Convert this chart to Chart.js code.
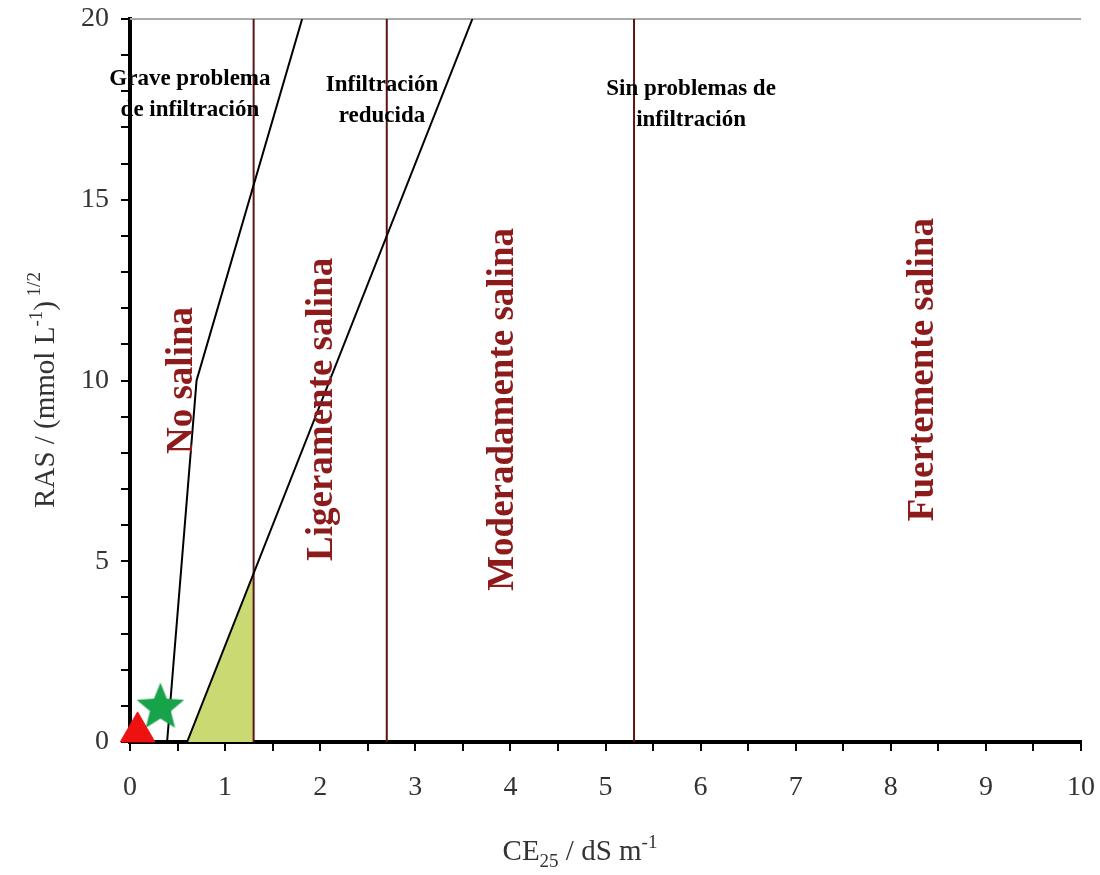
<!DOCTYPE html>
<html>
<head>
<meta charset="utf-8">
<script src="https://cdn.jsdelivr.net/npm/chart.js@4"></script>
<style>
  html, body { margin: 0; padding: 0; background: #fff; }
  #wrap { width: 1100px; height: 875px; overflow: hidden; position: relative; }
  #salChart { position: absolute; left: 0; top: -7px; }
</style>
</head>
<body>
<div id="wrap"><canvas id="salChart" width="1107" height="882"></canvas></div>
<script>
// boundary lines (CE25 vs RAS)
var severeX = [0.39, 0.70, 1.81];
var severeY = [0, 10, 20];
var reducedX = [0.6, 3.6];
var reducedY = [0, 20];
// salinity class limits, dS/m
var salinityLimits = [1.3, 2.7, 5.3];
// shaded zone
var fillX = [0.6, 1.3];
var fillY = [0, 4.7];
// samples: triangle, star
var sampleX = [0.08, 0.32];
var sampleY = [0.28, 0.98];

var zoneLabels = ['No salina', 'Ligeramente salina', 'Moderadamente salina', 'Fuertemente salina'];
var infilLabels = [['Grave problema', 'de infiltración'], ['Infiltración', 'reducida'], ['Sin problemas de', 'infiltración']];

// where the texts sit, in data units
var zoneAt = [[0.55, 10.0], [2.02, 9.2], [3.93, 9.2], [8.34, 10.3]];
var infilAt = [[0.63, 18.34], [2.65, 18.18], [5.9, 18.07]];

function pts(xs, ys) {
  var out = [];
  for (var i = 0; i < xs.length; i++) out.push({x: xs[i], y: ys[i]});
  return out;
}

// filled five point star for the second sample
var star = document.createElement('canvas');
star.width = 52; star.height = 52;
(function () {
  var c = star.getContext('2d');
  var R = 25, r = 11, cx = 26, cy = 27;
  c.beginPath();
  for (var i = 0; i < 10; i++) {
    var rad = (i % 2 === 0) ? R : r;
    var a = -Math.PI / 2 + i * Math.PI / 5;
    var px = cx + rad * Math.cos(a), py = cy + rad * Math.sin(a);
    if (i === 0) c.moveTo(px, py); else c.lineTo(px, py);
  }
  c.closePath();
  c.fillStyle = '#16a34a';
  c.fill();
})();

var datasets = [
  {data: [pts(sampleX, sampleY)[0]], pointStyle: 'triangle', pointRadius: 20, backgroundColor: '#ee1111', borderColor: '#ee1111', clip: false, order: 0},
  {data: [pts(sampleX, sampleY)[1]], pointStyle: star, pointRadius: 25, clip: false, order: 0},
  {data: pts(severeX, severeY), showLine: true, borderColor: '#000', borderWidth: 2, pointRadius: 0, order: 1},
  {data: pts(reducedX, reducedY), showLine: true, borderColor: '#000', borderWidth: 2, pointRadius: 0, order: 1},
  {data: pts(fillX, fillY), showLine: true, borderColor: 'rgba(0,0,0,0)', borderWidth: 0, pointRadius: 0,
   fill: 'origin', backgroundColor: '#cad972', order: 3}
];
salinityLimits.forEach(function (v) {
  datasets.push({data: [{x: v, y: 0}, {x: v, y: 20}], showLine: true, borderColor: '#5c1515', borderWidth: 2, pointRadius: 0, order: 2});
});

var decor = {
  id: 'decor',
  beforeDatasetsDraw: function (chart) {
    var ctx = chart.ctx, a = chart.chartArea;
    ctx.save();
    ctx.strokeStyle = '#aaa';
    ctx.lineWidth = 2;
    ctx.beginPath();
    ctx.moveTo(a.left, a.top);
    ctx.lineTo(a.right, a.top);
    ctx.stroke();
    ctx.restore();
  },
  afterDatasetsDraw: function (chart) {
    var ctx = chart.ctx;
    var xs = chart.scales.x, ys = chart.scales.y;
    ctx.save();
    // zone labels, rotated
    ctx.fillStyle = '#8e1b1b';
    ctx.font = 'bold 37px "Liberation Serif"';
    ctx.textAlign = 'center';
    ctx.textBaseline = 'middle';
    zoneLabels.forEach(function (t, i) {
      ctx.save();
      ctx.translate(xs.getPixelForValue(zoneAt[i][0]), ys.getPixelForValue(zoneAt[i][1]));
      ctx.rotate(-Math.PI / 2);
      ctx.fillText(t, 0, 0);
      ctx.restore();
    });
    // infiltration labels
    ctx.fillStyle = '#000';
    ctx.font = 'bold 23px "Liberation Serif"';
    infilLabels.forEach(function (lines, i) {
      var px = xs.getPixelForValue(infilAt[i][0]);
      var py = ys.getPixelForValue(infilAt[i][1]);
      lines.forEach(function (l, j) { ctx.fillText(l, px, py + j * 31); });
    });
    ctx.restore();
  },
  afterDraw: function (chart) {
    var ctx = chart.ctx, a = chart.chartArea;
    ctx.save();
    ctx.fillStyle = '#333';
    ctx.textBaseline = 'alphabetic';
    ctx.textAlign = 'left';
    var big = '29px "Liberation Serif"', small = '19px "Liberation Serif"';
    function run(parts) {
      var w = 0;
      parts.forEach(function (p) { ctx.font = p[1]; w += ctx.measureText(p[0]).width; });
      var x = -w / 2;
      parts.forEach(function (p) {
        ctx.font = p[1];
        ctx.fillText(p[0], x, p[2]);
        x += ctx.measureText(p[0]).width;
      });
    }
    // x title
    ctx.save();
    ctx.translate(580, a.bottom + 118);
    run([['CE', big, 0], ['25', small, 7], [' / dS m', big, 0], ['-1', small, -12]]);
    ctx.restore();
    // y title
    ctx.save();
    ctx.translate(54, a.top + 371);
    ctx.rotate(-Math.PI / 2);
    run([['RAS / (mmol L', big, 0], ['-1', small, -12], [')', big, 0], [' 1/2', small, -14]]);
    ctx.restore();
    ctx.restore();
  }
};

new Chart(document.getElementById('salChart'), {
  type: 'scatter',
  data: {datasets: datasets},
  plugins: [decor],
  options: {
    responsive: false,
    animation: false,
    layout: {padding: {top: 11, right: 13, left: 0, bottom: 0}},
    plugins: {legend: {display: false}, tooltip: {enabled: false}},
    scales: {
      x: {
        type: 'linear', min: 0, max: 10,
        afterFit: function (s) { s.height = 133; s.paddingLeft = 0; s.paddingRight = 0; },
        ticks: {
          stepSize: 0.5, autoSkip: false, maxRotation: 0, padding: 20,
          color: '#333', font: {family: 'Liberation Serif', size: 28},
          callback: function (v) { return Number.isInteger(v) ? v : ''; }
        },
        grid: {drawOnChartArea: false, drawTicks: true, tickLength: 9, color: '#000', lineWidth: 2},
        border: {display: true, color: '#000', width: 4}
      },
      y: {
        type: 'linear', min: 0, max: 20,
        afterFit: function (s) { s.width = 130; s.paddingTop = 0; s.paddingBottom = 0; },
        ticks: {
          stepSize: 1, autoSkip: false, padding: 12,
          color: '#333', font: {family: 'Liberation Serif', size: 28},
          callback: function (v) { return v % 5 === 0 ? v : ''; }
        },
        grid: {drawOnChartArea: false, drawTicks: true, tickLength: 9, color: '#000', lineWidth: 2},
        border: {display: true, color: '#000', width: 4}
      }
    }
  }
});
</script>
</body>
</html>
